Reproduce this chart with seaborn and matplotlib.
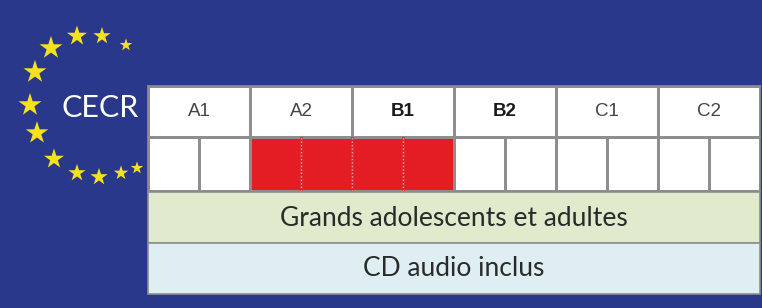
import numpy as np
import seaborn as sns
import matplotlib.pyplot as plt
from matplotlib.colors import ListedColormap
from matplotlib.patches import Rectangle

# niveaux CECR et cases cochées (A2 + B1)
niveaux = ['A1', 'A2', 'B1', 'B2', 'C1', 'C2']
niveaux_gras = ['B1', 'B2']
cases = [0, 0, 1, 1, 1, 1, 0, 0, 0, 0, 0, 0]
public = 'Grands adolescents et adultes'
support = 'CD audio inclus'
titre = 'CECR'

# étoiles du drapeau (en pixels)
etoiles_x = [77, 102, 126, 51, 35, 30, 37, 54, 77, 99, 121, 137]
etoiles_y = [36, 36, 45, 48, 72, 105, 133, 159, 173, 177, 173, 168]
etoiles_t = [230, 170, 90, 300, 300, 300, 290, 230, 170, 170, 120, 90]

bleu = '#29388a'
gris = '#8e8e8e'
rouge = '#e41c24'
W, H = 762, 308

sns.set_theme(style='white')
plt.rcParams['font.family'] = ['Liberation Sans', 'DejaVu Sans']

fig = plt.figure(figsize=(W / 100, H / 100), dpi=100, facecolor=bleu)

# fond + étoiles + bandeaux
ax = fig.add_axes([0, 0, 1, 1])
ax.set_xlim(0, W)
ax.set_ylim(H, 0)
ax.set_facecolor(bleu)
ax.axis('off')
ax.scatter(etoiles_x, etoiles_y, s=etoiles_t, marker='*', color='#f6e21c',
           edgecolor='none', zorder=3)
ax.text(100, 108, titre, color='white', fontsize=22, family='Lato',
        ha='center', va='center')

x0, x1 = 148, 760
ax.add_patch(Rectangle((x0, 192), x1 - x0, 51, facecolor='#dfebcc',
                       edgecolor=gris, lw=1.2))
ax.add_patch(Rectangle((x0, 243), x1 - x0, 51, facecolor='#deeef3',
                       edgecolor=gris, lw=1.2))
ax.text((x0 + x1) / 2, 218, public, fontsize=19, family='Lato',
        color='#2a2a2a', ha='center', va='center')
ax.text((x0 + x1) / 2, 269, support, fontsize=19, family='Lato',
        color='#2a2a2a', ha='center', va='center')


def axes_px(x, y, w, h):
    return fig.add_axes([x / W, 1 - (y + h) / H, w / W, h / H])


# ligne des niveaux
hax = axes_px(x0, 86, x1 - x0, 51)
sns.heatmap(np.zeros((1, len(niveaux))), ax=hax, cmap=ListedColormap(['white']),
            annot=np.array([niveaux]), fmt='', cbar=False,
            linewidths=1.0, linecolor=gris,
            annot_kws={'fontsize': 13.5, 'color': '#444444'})
for t in hax.texts:
    if t.get_text() in niveaux_gras:
        t.set_fontweight('bold')
        t.set_color('#1a1a1a')

# ligne des cases
cax = axes_px(x0, 137, x1 - x0, 54)
sns.heatmap(np.array([cases]), ax=cax, cmap=ListedColormap(['white', rouge]),
            vmin=0, vmax=1, cbar=False, linewidths=1.0, linecolor=gris)
# séparations pointillées entre deux cases rouges
for i in range(1, len(cases)):
    if cases[i] and cases[i - 1]:
        cax.axvline(i, color=rouge, lw=2.0, zorder=10)
        cax.axvline(i, color='#f4a5a8', lw=1.0, ls=(0, (1, 1.5)), zorder=11)

for a in (hax, cax):
    a.set_xticks([])
    a.set_yticks([])
    for sp in a.spines.values():
        sp.set_visible(True)
        sp.set_color(gris)
        sp.set_linewidth(1.2)

fig.savefig('out.png', dpi=100, facecolor=bleu)
